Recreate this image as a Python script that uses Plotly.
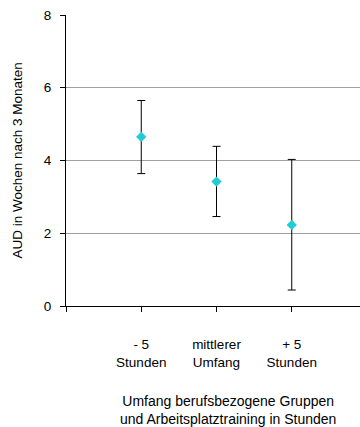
import plotly.graph_objects as go

categories = ["- 5<br>Stunden", "mittlerer<br>Umfang", "+ 5<br>Stunden"]
means = [4.65, 3.42, 2.23]
upper = [5.65, 4.39, 4.03]
lower = [3.64, 2.46, 0.44]
x_title_lines = ["Umfang berufsbezogene Gruppen", "und Arbeitsplatztraining in Stunden"]
y_title = "AUD in Wochen nach 3 Monaten"

x_pos = list(range(len(categories)))
err_plus = [u - m for u, m in zip(upper, means)]
err_minus = [m - l for m, l in zip(means, lower)]

fig = go.Figure()
fig.add_trace(go.Scatter(
    x=x_pos, y=means, mode="markers",
    marker=dict(symbol="diamond", size=8, color="#22CCD6"),
    error_y=dict(type="data", symmetric=False, array=err_plus, arrayminus=err_minus,
                 color="#000000", thickness=1, width=4),
    showlegend=False,
))

font = dict(family="Liberation Sans, Arial, sans-serif", size=13.5, color="#000000")
title_font = dict(family="Liberation Sans, Arial, sans-serif", size=14, color="#000000")

annotations = [
    dict(text=y_title, textangle=-90,
         xref="paper", x=0, xshift=-49, xanchor="center",
         yref="y", y=4.0, yanchor="middle",
         showarrow=False, font=font),
    dict(text="<br>".join(x_title_lines), xref="x", x=1.15, xanchor="center",
         yref="paper", y=0, yshift=-104, yanchor="middle",
         showarrow=False, font=title_font, borderpad=0),
]

fig.update_layout(
    width=360, height=427,
    margin=dict(l=66, r=0, t=15, b=121),
    paper_bgcolor="white", plot_bgcolor="white",
    font=font,
    xaxis=dict(
        range=[-1, 2.907],
        tickvals=[-1] + x_pos, ticktext=[""] + categories,
        showgrid=False, zeroline=False,
        showline=True, linecolor="#000000", linewidth=1,
        ticks="outside", ticklen=5, tickcolor="#000000",
        ticklabelstandoff=21,
    ),
    yaxis=dict(
        range=[0, 8.0001], tickvals=[0, 2, 4, 6, 8],
        showgrid=True, gridcolor="#A0A0A0", gridwidth=1,
        zeroline=False,
        showline=True, linecolor="#000000", linewidth=1,
        ticks="outside", ticklen=5, tickcolor="#000000",
        ticklabelstandoff=6,
    ),
    annotations=annotations,
)

fig.write_html("out.html", config={"displayModeBar": False},
               post_script="document.body.style.margin='0';document.body.style.overflow='hidden';")
